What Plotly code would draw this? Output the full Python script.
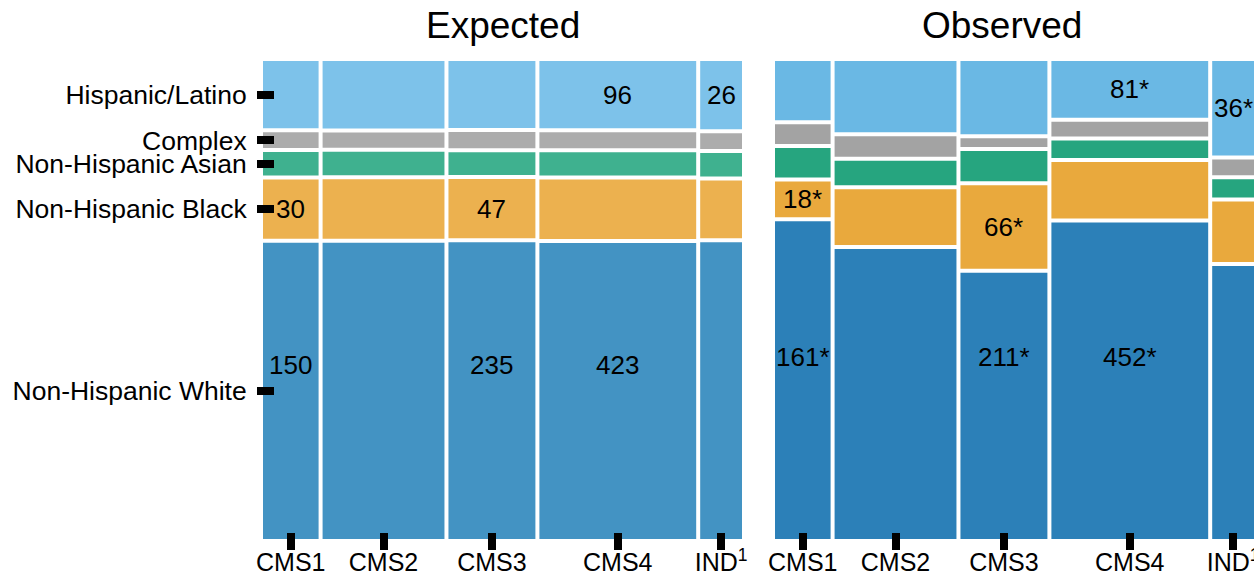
import plotly.graph_objects as go

# Cluster groups (columns) and race/ethnicity groups (rows, bottom to top)
groups = ["CMS1", "CMS2", "CMS3", "CMS4", "IND"]
group_ticktext = ["CMS1", "CMS2", "CMS3", "CMS4", "IND<sup>1</sup>"]
races = ["Non-Hispanic White", "Non-Hispanic Black", "Non-Hispanic Asian", "Complex", "Hispanic/Latino"]

# Observed counts per group (one list per race)
obs_white = [161, 322, 211, 452, 104]
obs_black = [18, 62, 66, 81, 23]
obs_asian = [15, 27, 24, 25, 7]
obs_complex = [10, 23, 7, 21, 6]
obs_hispanic = [30, 79, 58, 81, 36]

# Expected counts under independence
exp_white = [150, 329, 235, 423, 113]
exp_black = [30, 66, 47, 85, 22]
exp_asian = [12, 26, 18, 33, 9]
exp_complex = [8, 17, 13, 23, 6]
exp_hispanic = [34, 75, 53, 96, 26]

# Cells printed on the tiles (group, race)
labeled_cells = [
    ("CMS1", "Non-Hispanic White"), ("CMS1", "Non-Hispanic Black"),
    ("CMS3", "Non-Hispanic White"), ("CMS3", "Non-Hispanic Black"),
    ("CMS4", "Non-Hispanic White"), ("CMS4", "Hispanic/Latino"),
    ("IND", "Hispanic/Latino"),
]

exp_colors = ["#4393c3", "#ecb14f", "#3fb18f", "#acacac", "#7dc2ea"]
obs_colors = ["#2c80b8", "#e9a93d", "#26a57f", "#a3a3a3", "#6ab8e4"]

FONT = "Liberation Sans, Arial, Helvetica, sans-serif"
W, H = 1254, 576

observed = [obs_white, obs_black, obs_asian, obs_complex, obs_hispanic]
expected = [exp_white, exp_black, exp_asian, exp_complex, exp_hispanic]

# Panel geometry (pixels) -> paper fractions
PANEL_W_PX = 479
PANEL_H_PX = 478
GAP_PX = 4
exp_left, obs_left = 263, 775
top_px, bottom_px = 61, 539

fig = go.Figure()


def mosaic(matrix, colors, xaxis, yaxis, suffix, white_label_frac):
    totals = [sum(matrix[r][c] for r in range(len(races))) for c in range(len(groups))]
    n = sum(totals)
    gx = n * GAP_PX / (PANEL_W_PX - GAP_PX * (len(groups) - 1))
    gy = GAP_PX / (PANEL_H_PX - GAP_PX * (len(races) - 1))
    lefts, x = [], 0.0
    for t in totals:
        lefts.append(x)
        x += t + gx
    centers = [l + t / 2 for l, t in zip(lefts, totals)]
    bases = {}
    for c in range(len(groups)):
        y = 0.0
        for r in range(len(races)):
            p = matrix[r][c] / totals[c]
            bases[(r, c)] = (y, p)
            y += p + gy
    for r, race in enumerate(races):
        fig.add_trace(go.Bar(
            x=centers,
            y=[bases[(r, c)][1] for c in range(len(groups))],
            base=[bases[(r, c)][0] for c in range(len(groups))],
            width=totals,
            marker=dict(color=colors[r], line=dict(width=0)),
            name=race, showlegend=False, hoverinfo="skip",
            xaxis=xaxis, yaxis=yaxis,
        ))
    y_range = [0, 1 + gy * (len(races) - 1)]
    for g, race in labeled_cells:
        c, r = groups.index(g), races.index(race)
        b, p = bases[(r, c)]
        # the large bottom tiles share one label height per panel
        ly = white_label_frac * y_range[1] if r == 0 else b + p / 2
        fig.add_annotation(
            x=centers[c], y=ly, xref=xaxis, yref=yaxis,
            text=f"{matrix[r][c]}{suffix}", showarrow=False,
            font=dict(family=FONT, size=26, color="black"),
        )
    x_range = [0, x - gx]
    # row centers from overall race shares, used for the row ticks
    race_tot = [sum(row) for row in matrix]
    row_centers, y = [], 0.0
    for rt in race_tot:
        p = rt / n
        row_centers.append(y + p / 2)
        y += p + gy
    return centers, x_range, y_range, row_centers


e_centers, e_xr, e_yr, e_rows = mosaic(expected, exp_colors, "x", "y", "", 0.364)
o_centers, o_xr, o_yr, o_rows = mosaic(observed, obs_colors, "x2", "y2", "*", 0.381)

exp_dom = [exp_left / W, (exp_left + PANEL_W_PX) / W]
obs_dom = [obs_left / W, min(1.0, (obs_left + PANEL_W_PX) / W)]
y_dom = [(H - bottom_px) / H, (H - top_px) / H]

hidden = dict(visible=False, fixedrange=True, automargin=False)
xtick_pos = (H - 532) / H
tick_style = dict(ticks="outside", ticklen=17, tickwidth=8, tickcolor="black",
                  showline=False, showgrid=False, zeroline=False,
                  fixedrange=True, automargin=False, tickmode="array",
                  ticklabeloverflow="allow")

fig.update_layout(
    width=W, height=H,
    margin=dict(l=0, r=0, t=0, b=0, autoexpand=False),
    paper_bgcolor="white", plot_bgcolor="white",
    barmode="overlay",
    showlegend=False,
    xaxis=dict(domain=exp_dom, range=e_xr, anchor="y", **hidden),
    yaxis=dict(domain=y_dom, range=e_yr, anchor="x", **hidden),
    xaxis2=dict(domain=obs_dom, range=o_xr, anchor="y2", **hidden),
    yaxis2=dict(domain=y_dom, range=o_yr, anchor="x2", **hidden),
    # tick axes that straddle the panel edges
    yaxis3=dict(overlaying="y", anchor="free", position=274 / W, side="left",
                range=e_yr, tickvals=e_rows, ticktext=races,
                ticklabelstandoff=5,
                tickfont=dict(family=FONT, size=26.5, color="black"), **tick_style),
    xaxis3=dict(overlaying="x", anchor="free", position=xtick_pos, side="bottom",
                range=e_xr, tickvals=e_centers, ticktext=group_ticktext,
                ticklabelstandoff=-9,
                tickfont=dict(family=FONT, size=25, color="black"), **tick_style),
    xaxis4=dict(overlaying="x2", anchor="free", position=xtick_pos, side="bottom",
                range=o_xr, tickvals=o_centers, ticktext=group_ticktext,
                ticklabelstandoff=-9,
                tickfont=dict(family=FONT, size=25, color="black"), **tick_style),
)

# invisible carriers so the overlay tick axes get drawn
fig.add_trace(go.Scatter(x=[None], y=[None], xaxis="x", yaxis="y3", showlegend=False, hoverinfo="skip"))
fig.add_trace(go.Scatter(x=[None], y=[None], xaxis="x3", yaxis="y", showlegend=False, hoverinfo="skip"))
fig.add_trace(go.Scatter(x=[None], y=[None], xaxis="x4", yaxis="y2", showlegend=False, hoverinfo="skip"))

for text, xc in [("Expected", (exp_left + PANEL_W_PX / 2) / W), ("Observed", 1002 / W)]:
    fig.add_annotation(text=text, x=xc, y=1 - 3 / H, xref="paper", yref="paper",
                       xanchor="center", yanchor="top", showarrow=False,
                       font=dict(family=FONT, size=37, color="black"))

fig.write_html("out.html")
